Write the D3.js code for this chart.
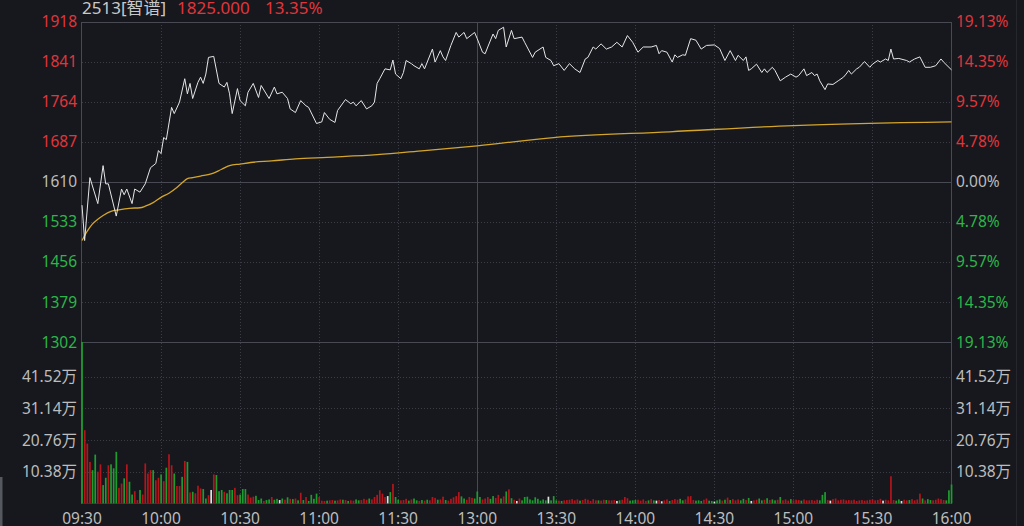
<!DOCTYPE html>
<html>

<head>
    <meta charset="utf-8">
    <script src="https://d3js.org/d3.v7.min.js"></script>
    <style>
        body { margin: 0; background: #16181d; overflow: hidden; }
        text { font-family: "Noto Sans", "Noto Sans CJK SC", sans-serif; font-size: 15.5px; }
        text.head { font-size: 17px; }
    </style>
    <script>
        // header
        const stockName = "2513[智谱]"
        const lastPrice = "1825.000"
        const lastPct = "13.35%"
        const preClose = 1610

        // axis labels
        const timeTicks = [0, 30, 60, 90, 120, 150, 180, 210, 240, 270, 300, 330]
        const timeLabels = ["09:30", "10:00", "10:30", "11:00", "11:30", "13:00", "13:30", "14:00", "14:30", "15:00", "15:30", "16:00"]
        const priceTicks = [1918, 1841, 1764, 1687, 1610, 1533, 1456, 1379, 1302]
        const pctLabels = ["19.13%", "14.35%", "9.57%", "4.78%", "0.00%", "4.78%", "9.57%", "14.35%", "19.13%"]
        const volTicks = [10.38, 20.76, 31.14, 41.52]

        // price line: trading minute index (0 = 09:30, 150 = 12:00/13:00, 330 = 16:00) and price
        const priceMinutes = [0, 1, 3, 6, 8, 9, 10, 13, 15, 16, 17, 19, 20, 22, 24, 26, 28, 29, 30, 31, 32, 34, 35, 37, 39, 40, 41, 42, 44, 45, 46, 47, 48, 50, 52, 54, 55, 56, 57, 59,
            60, 62, 63, 65, 67, 68, 71, 73, 74, 76, 78, 79, 81, 83, 85, 86, 89, 91, 92, 94, 96, 97, 100, 102, 103, 104, 106, 108, 110, 111, 112, 113, 115, 117, 118, 119,
            121, 122, 123, 125, 126, 128, 129, 130, 133, 134, 136, 137, 138, 140, 142, 143, 145, 146, 149, 150, 152, 153, 154, 156, 157, 158, 160, 161, 163, 164, 167, 168,
            171, 172, 175, 176, 178, 179, 181, 183, 185, 187, 189, 191, 192, 194, 195, 197, 199, 201, 203, 205, 207, 209, 211, 213, 216, 218, 219, 220, 222, 224, 225, 226,
            228, 229, 231, 233, 235, 237, 240, 242, 244, 246, 248, 249, 251, 252, 253, 254, 256, 258, 259, 260, 262, 263, 265, 267, 269, 271, 272, 274, 275, 277, 278, 279,
            280, 282, 283, 285, 287, 289, 290, 291, 292, 294, 295, 297, 299, 300, 302, 303, 305, 306, 307, 308, 310, 313, 314, 316, 318, 320, 322, 324, 326, 327, 330]
        const prices = [1565, 1497, 1618, 1568, 1641, 1606, 1606, 1544, 1596, 1585, 1596, 1568, 1596, 1590, 1606, 1637, 1645, 1670, 1664, 1695, 1691, 1753, 1741, 1763, 1808, 1779, 1799, 1770, 1801, 1811, 1799, 1817, 1849, 1851, 1799, 1792, 1801, 1779, 1741, 1789,
            1766, 1756, 1782, 1799, 1772, 1795, 1770, 1792, 1779, 1782, 1770, 1750, 1743, 1766, 1756, 1753, 1722, 1725, 1743, 1730, 1724, 1747, 1768, 1760, 1763, 1756, 1766, 1750, 1756, 1763, 1799, 1808, 1827, 1825, 1844, 1817,
            1808, 1820, 1843, 1837, 1833, 1827, 1837, 1827, 1865, 1840, 1862, 1850, 1843, 1872, 1897, 1888, 1897, 1885, 1897, 1885, 1859, 1856, 1869, 1894, 1885, 1901, 1907, 1869, 1901, 1885, 1888, 1878,
            1849, 1859, 1869, 1849, 1843, 1833, 1837, 1824, 1837, 1827, 1820, 1846, 1849, 1869, 1865, 1875, 1865, 1869, 1878, 1869, 1891, 1878, 1859, 1869, 1869, 1872, 1856, 1862, 1859, 1840, 1854, 1849,
            1854, 1853, 1885, 1882, 1865, 1872, 1873, 1866, 1843, 1862, 1843, 1853, 1843, 1850, 1824, 1827, 1836, 1820, 1827, 1820, 1830, 1824, 1804, 1811, 1817, 1811, 1814, 1827, 1814, 1820, 1814, 1817,
            1804, 1787, 1798, 1797, 1804, 1811, 1817, 1824, 1817, 1827, 1830, 1841, 1830, 1836, 1843, 1840, 1846, 1843, 1865, 1846, 1847, 1843, 1840, 1846, 1850, 1830, 1830, 1833, 1846, 1840, 1825]

        // average price line
        const avgMinutes = [0, 2, 4, 6, 8, 11, 14, 18, 22, 24, 27, 30, 33, 36, 38, 40, 42, 45, 49, 53, 56, 60, 64, 72, 81, 93, 112, 130, 150, 179, 223, 270, 330]
        const avgPrices = [1497, 1515, 1529, 1538, 1545, 1553, 1556, 1559, 1560, 1563, 1570, 1580, 1588, 1599, 1608, 1616, 1618, 1621, 1625, 1634, 1641, 1644, 1647, 1650, 1654, 1657, 1662, 1670, 1679, 1695, 1706, 1718, 1725]

        // volume per minute (万), one per trading minute 0..330
        const volumes = [52.9, 24.0, 19.6, 13.6, 10.9, 16.0, 10.4, 12.8, 6.0, 8.4,
            12.5, 12.8, 11.5, 16.9, 5.1, 6.5, 8.2, 12.8, 7.1, 2.9,
            4.0, 1.1, 4.4, 2.9, 13.1, 9.8, 10.9, 10.9, 7.6, 8.4,
            9.5, 7.3, 11.7, 16.1, 12.5, 9.8, 5.7, 5.7, 8.7, 13.9,
            13.6, 3.6, 3.8, 3.3, 5.8, 4.9, 4.7, 1.6, 2.7, 4.4,
            9.5, 9.3, 4.0, 4.4, 3.8, 3.3, 4.4, 4.4, 5.1, 2.7,
            2.9, 4.7, 4.7, 2.9, 1.9, 2.2, 2.5, 1.1, 1.6, 0.8,
            1.1, 1.3, 2.1, 1.2, 1.5, 1.1, 1.6, 1.2, 2.0, 1.5,
            1.4, 1.6, 1.0, 3.5, 1.1, 2.1, 0.8, 2.8, 1.5, 3.2,
            2.1, 0.9, 0.8, 0.9, 1.0, 1.1, 0.9, 1.0, 1.3, 1.2,
            1.1, 0.8, 1.0, 0.9, 1.3, 1.0, 1.1, 1.5, 1.2, 1.6,
            1.3, 2.1, 2.8, 4.3, 3.2, 2.1, 2.4, 3.7, 6.4, 2.1,
            1.2, 1.0, 1.1, 1.5, 0.9, 1.3, 1.6, 1.0, 0.8, 1.1,
            0.9, 1.2, 1.0, 2.1, 1.8, 1.2, 1.3, 2.2, 1.1, 0.9,
            1.5, 2.0, 2.4, 3.7, 2.3, 1.6, 1.2, 2.1, 1.8, 1.6,
            3.9, 2.1, 1.3, 1.6, 2.1, 1.5, 2.4, 1.8, 2.8, 1.6,
            2.3, 3.9, 4.6, 1.7, 1.2, 0.8, 1.6, 1.0, 2.1, 2.2,
            1.3, 1.0, 2.0, 1.5, 0.9, 1.3, 1.0, 2.2, 1.0, 2.4,
            1.0, 0.9, 0.8, 1.0, 1.1, 1.2, 1.4, 1.0, 1.3, 0.9,
            1.1, 1.5, 1.2, 0.8, 1.4, 1.0, 1.0, 0.9, 1.2, 1.1,
            1.0, 1.0, 1.1, 0.8, 1.0, 1.2, 2.1, 1.7, 0.9, 1.0,
            1.1, 1.2, 0.9, 1.3, 0.8, 1.0, 1.4, 1.0, 0.9, 1.1,
            0.7, 1.0, 1.3, 0.8, 1.1, 1.4, 1.2, 1.5, 1.0, 1.3,
            2.3, 2.4, 1.1, 0.9, 1.0, 0.8, 1.2, 1.6, 0.9, 0.8,
            0.6, 1.0, 1.3, 0.9, 1.2, 1.9, 1.1, 1.4, 1.0, 1.3,
            1.0, 1.5, 1.1, 1.8, 0.8, 1.0, 1.2, 1.6, 1.0, 1.2,
            1.7, 1.1, 1.3, 1.0, 1.2, 2.1, 1.0, 1.3, 0.9, 1.4,
            1.0, 1.2, 1.1, 0.9, 1.3, 1.0, 1.0, 1.1, 0.9, 1.2,
            1.0, 2.8, 3.7, 1.1, 0.9, 1.4, 1.6, 1.0, 1.2, 1.3,
            1.0, 1.1, 1.0, 1.2, 0.8, 1.0, 1.1, 0.9, 1.0, 1.2,
            1.3, 1.0, 1.1, 1.5, 0.9, 1.2, 1.0, 8.9, 1.1, 0.9,
            1.3, 0.8, 1.2, 1.0, 1.1, 1.4, 1.0, 1.3, 3.2, 1.6,
            1.0, 1.4, 1.1, 1.0, 1.2, 1.6, 1.4, 1.1, 1.0, 4.3,
            6.2]
        // r = up (red), g = down (green), w = flat (white)
        const volumeDirs = ("grrrggrrgg" + "rgggrrgrgg" + "rrgrrrrgrr" + "grgrrgrrgr" + "grgrrrggrw" +
            "rgggrgggrr" + "gggrrrgggr" + "ggrggwgrgr" + "grgrgrgggg" + "rrrgrrgrrg" +
            "rgrrggrrrg" + "rrrrrrwgrg" + "grrrgrggrg" + "rgrrrgrrgr" + "rrrrggrrrg" +
            "ggrrrggrrg" + "rgrgrwrggg" + "gggggggwgg" + "grgrrrrrrg" + "rrrrrrgrrg" +
            "rrrwgrrrgg" + "grrrrgrgwr" + "wrrgrrrggr" + "rrrgggrrgg" + "wggrgrgrrr" +
            "ggrgwrrggr" + "grggrgrrrg" + "rrrgrrrrrr" + "gggrwrrrrr" + "rrrrrrrrrr" +
            "rrrrwrrrrg" + "gwrrgrrrrg" + "rggrrrrrgg" + "g").split("")

        const RED = "#e0353b", GREEN = "#2db54a", GRAY = "#bdbdbd"
        const barColor = { r: "#b5151c", g: "#1f9c30", w: "#e2e2e2" }

        function drawChart() {
            const svg = d3.select("#chart")
            const left = 82, right = 951.5

            const x = d3.scaleLinear().domain([0, 330]).range([left, right])
            const y = d3.scaleLinear().domain([1302, 1918]).range([342, 21.5])
            const yv = d3.scaleLinear().domain([0, 52.9]).range([503.4, 342])

            // edge strips
            svg.append("rect").attr("x", 0).attr("y", 477).attr("width", 2.5).attr("height", 49).attr("fill", "#55585e")
            svg.append("line").attr("x1", 1016.5).attr("x2", 1016.5).attr("y1", 0).attr("y2", 526)
                .attr("stroke", "#25272d").attr("shape-rendering", "crispEdges")

            const grid = svg.append("g").attr("shape-rendering", "crispEdges")

            // horizontal price grid
            grid.selectAll(".pgrid")
                .data(priceTicks.filter(d => d != preClose && d != 1302 && d != 1918))
                .enter().append("line")
                .attr("x1", left).attr("x2", right)
                .attr("y1", d => Math.round(y(d)) + 0.5).attr("y2", d => Math.round(y(d)) + 0.5)
                .attr("stroke", "#3a3d45").attr("stroke-dasharray", "1,2")
            // horizontal volume grid
            grid.selectAll(".vgrid")
                .data(volTicks)
                .enter().append("line")
                .attr("x1", left).attr("x2", right)
                .attr("y1", d => Math.round(yv(d)) + 0.5).attr("y2", d => Math.round(yv(d)) + 0.5)
                .attr("stroke", "#3a3d45").attr("stroke-dasharray", "1,2")
            // vertical time grid
            grid.selectAll(".tgrid")
                .data(timeTicks.filter(d => d > 0 && d < 330))
                .enter().append("line")
                .attr("x1", d => Math.round(x(d)) + 0.5).attr("x2", d => Math.round(x(d)) + 0.5)
                .attr("y1", 21.5).attr("y2", 503.5)
                .attr("stroke", d => d == 150 ? "#474a52" : "#3a3d45")
                .attr("stroke-dasharray", d => d == 150 ? null : "1,2")

            // solid lines: top, pre-close, price/volume separator, bottom, sides
            const solids = [1918, preClose, 1302]
            grid.selectAll(".solid")
                .data(solids)
                .enter().append("line")
                .attr("x1", left).attr("x2", right)
                .attr("y1", d => Math.round(y(d)) + 0.5).attr("y2", d => Math.round(y(d)) + 0.5)
                .attr("stroke", "#474a52")
            grid.append("line").attr("x1", left).attr("x2", right).attr("y1", 503.5).attr("y2", 503.5).attr("stroke", "#30333a")
            grid.append("line").attr("x1", left - 0.5).attr("x2", left - 0.5).attr("y1", 21.5).attr("y2", 503.5).attr("stroke", "#474a52")
            grid.append("line").attr("x1", right).attr("x2", right).attr("y1", 21.5).attr("y2", 503.5).attr("stroke", "#474a52")

            // volume bars
            svg.append("g").selectAll("rect")
                .data(volumes)
                .enter().append("rect")
                .attr("x", (d, i) => x(i) - 0.8)
                .attr("width", 1.7)
                .attr("y", d => yv(d))
                .attr("height", d => yv(0) - yv(d))
                .attr("fill", (d, i) => barColor[volumeDirs[i]])

            // average line
            const avgData = avgMinutes.map((m, i) => [m, avgPrices[i]])
            svg.append("path")
                .datum(avgData)
                .attr("fill", "none")
                .attr("stroke", "#d4a52c")
                .attr("stroke-width", 1.3)
                .attr("d", d3.line().curve(d3.curveMonotoneX).x(d => x(d[0])).y(d => y(d[1])))

            // price line
            const priceData = priceMinutes.map((m, i) => [m, prices[i]])
            svg.append("path")
                .datum(priceData)
                .attr("fill", "none")
                .attr("stroke", "#e6e6e6")
                .attr("stroke-width", 1)
                .attr("stroke-linejoin", "round")
                .attr("d", d3.line().x(d => x(d[0])).y(d => y(d[1])))

            // left price labels
            const tickColor = d => d > preClose ? RED : (d < preClose ? GREEN : GRAY)
            svg.selectAll(".plabel")
                .data(priceTicks)
                .enter().append("text")
                .attr("x", 77).attr("y", d => y(d)).attr("dy", "0.36em")
                .attr("text-anchor", "end")
                .attr("fill", tickColor)
                .text(d => d)
            // right percent labels
            svg.selectAll(".pct")
                .data(priceTicks)
                .enter().append("text")
                .attr("x", 956).attr("y", d => y(d)).attr("dy", "0.36em")
                .attr("fill", tickColor)
                .text((d, i) => pctLabels[i])

            // volume labels both sides
            const fmtVol = d => d.toFixed(2) + "万"
            svg.selectAll(".vlabel")
                .data(volTicks)
                .enter().append("text")
                .attr("x", 77).attr("y", d => yv(d)).attr("dy", "0.36em")
                .attr("text-anchor", "end").attr("fill", GRAY)
                .text(fmtVol)
            svg.selectAll(".vlabel2")
                .data(volTicks)
                .enter().append("text")
                .attr("x", 956).attr("y", d => yv(d)).attr("dy", "0.36em")
                .attr("fill", GRAY)
                .text(fmtVol)

            // time labels
            svg.selectAll(".tlabel")
                .data(timeTicks)
                .enter().append("text")
                .attr("x", d => x(d)).attr("y", 523.5)
                .attr("text-anchor", "middle").attr("fill", GRAY)
                .text((d, i) => timeLabels[i])

            // header
            svg.append("text").attr("class", "head").attr("x", 82).attr("y", 14).attr("fill", "#c9c9c9").text(stockName)
            svg.append("text").attr("class", "head").attr("x", 177).attr("y", 14).attr("fill", RED).text(lastPrice)
            svg.append("text").attr("class", "head").attr("x", 265).attr("y", 14).attr("fill", RED).text(lastPct)
        }
    </script>
</head>

<body onload="drawChart()">
    <svg id="chart" width="1024" height="526"></svg>
</body>

</html>
